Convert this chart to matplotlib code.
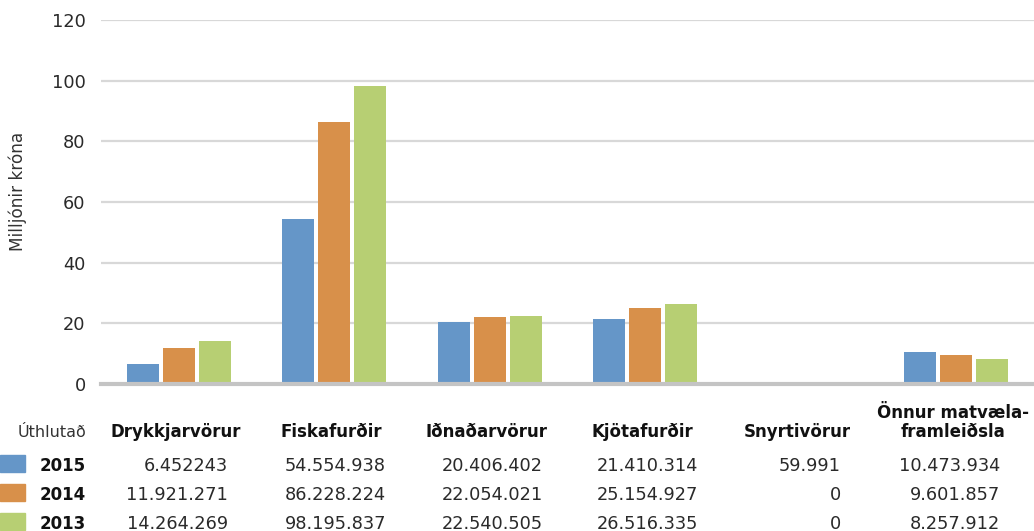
import numpy as np
import matplotlib.pyplot as plt
import matplotlib.transforms as mtransforms
from matplotlib.patches import Rectangle

plt.rcParams['font.family'] = ['DejaVu Sans']

categories = ["Drykkjarvörur", "Fiskafurðir", "Iðnaðarvörur", "Kjötafurðir",
              "Snyrtivörur", "Önnur matvæla-\nframleiðsla"]
years = ["2015", "2014", "2013"]
v2015 = [6452243, 54554938, 20406402, 21410314, 59991, 10473934]
v2014 = [11921271, 86228224, 22054021, 25154927, 0, 9601857]
v2013 = [14264269, 98195837, 22540505, 26516335, 0, 8257912]
labels2015 = ["6.452243", "54.554.938", "20.406.402", "21.410.314", "59.991", "10.473.934"]
labels2014 = ["11.921.271", "86.228.224", "22.054.021", "25.154.927", "0", "9.601.857"]
labels2013 = ["14.264.269", "98.195.837", "22.540.505", "26.516.335", "0", "8.257.912"]
colors = ["#6596c8", "#d8904a", "#b7cf73"]

W, H = 1034, 531
fig = plt.figure(figsize=(W / 100, H / 100), dpi=100)
ax = fig.add_axes([101 / W, 1 - 384 / H, 1 - 101 / W, (384 - 20) / H])

x = np.arange(len(categories))
step = 0.232
bw = 0.206
for i, vals in enumerate([v2015, v2014, v2013]):
    ax.bar(x + (i - 1) * step, np.array(vals) / 1e6, width=bw, color=colors[i],
           zorder=3)

ax.set_xlim(-0.5, len(categories) - 0.5)
ax.set_ylim(0, 120)
ax.set_yticks(range(0, 121, 20))
ax.tick_params(axis='y', length=0, labelsize=12.8, pad=11, colors="#2a2a2a")
ax.set_xticks([])
ax.grid(axis='y', color="#d8d8d8", linewidth=1.6, zorder=0)
for s in ['top', 'right', 'left']:
    ax.spines[s].set_visible(False)
ax.spines['bottom'].set_color("#c4c4c4")
ax.spines['bottom'].set_linewidth(3)
ax.spines['bottom'].set_zorder(4)
fig.text(18 / W, 1 - 191 / H, "Milljónir króna", rotation=90, fontsize=12.2,
         va='center', ha='center', color="#333333")

# data table under the chart
tr = mtransforms.blended_transform_factory(ax.transData, fig.transFigure)
def fy(p):
    return 1 - p / H

for i, c in enumerate(categories):
    ax.text(i - 0.02, fy(437), c, transform=tr, ha='center', va='baseline',
            fontsize=12, fontweight='semibold', color="#111111",
            multialignment='center', linespacing=1.05)
fig.text(86 / W, fy(437), "Úthlutað", ha='right', va='baseline', fontsize=11.5,
         color="#333333")

offsets = [0.315, 0.334, 0.34, 0.34, 0.257, 0.283]
rows = [labels2015, labels2014, labels2013]
baselines = [471, 500, 529]
for r, (yr, labs) in enumerate(zip(years, rows)):
    b = baselines[r]
    fig.patches.append(Rectangle((0, fy(b + 1)), 25 / W, 17 / H,
                                 transform=fig.transFigure, color=colors[r]))
    fig.text(86 / W, fy(b), yr, ha='right', va='baseline', fontsize=12,
             fontweight='bold', color="#111111")
    for i, lab in enumerate(labs):
        ax.text(i + offsets[i], fy(b), lab, transform=tr, ha='right',
                va='baseline', fontsize=12.8, color="#2a2a2a")

fig.savefig("out.png", dpi=100)
